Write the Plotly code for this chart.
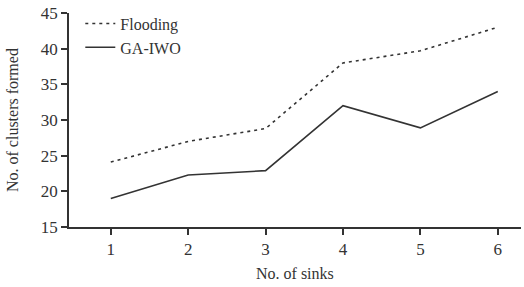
import plotly.graph_objects as go

sinks = [1, 2, 3, 4, 5, 6]
flooding = [24.1, 27.0, 28.8, 38.0, 39.7, 43.0]
ga_iwo = [19.0, 22.3, 22.9, 32.0, 28.9, 34.0]

font = dict(family="Liberation Serif, Times New Roman, serif", color="#333333")

fig = go.Figure()
fig.add_trace(go.Scatter(x=sinks, y=flooding, mode="lines", name="Flooding",
                         line=dict(color="#333333", width=1.6, dash="3px,4px")))
fig.add_trace(go.Scatter(x=sinks, y=ga_iwo, mode="lines", name="GA-IWO",
                         line=dict(color="#333333", width=1.6)))

fig.update_layout(
    width=524, height=287,
    margin=dict(l=69, r=3, t=13, b=60, autoexpand=False),
    paper_bgcolor="white", plot_bgcolor="white",
    font=dict(size=17, **font),
    showlegend=True,
    legend=dict(x=0.025, y=1.03, xanchor="left", yanchor="top",
                bgcolor="rgba(0,0,0,0)", font=dict(size=16, **font),
                itemwidth=30, tracegroupgap=0),
    xaxis=dict(range=[0.46, 6.3], tickvals=sinks, ticks="outside", ticklen=6,
               tickwidth=1.5, tickcolor="#333333", showline=True, linecolor="#333333",
               linewidth=1.5, showgrid=False, zeroline=False, automargin=False,
               tickfont=dict(size=17, **font)),
    yaxis=dict(range=[15, 45], tickvals=[15, 20, 25, 30, 35, 40, 45], ticks="outside",
               ticklen=6, tickwidth=1.5, tickcolor="#333333", showline=True,
               linecolor="#333333", linewidth=1.5, showgrid=False, zeroline=False,
               automargin=False, tickfont=dict(size=17, **font)),
    annotations=[
        dict(text="No. of sinks", xref="paper", yref="paper", x=0.5, y=-0.2196,
             xanchor="center", yanchor="middle", showarrow=False,
             font=dict(size=16, **font)),
        dict(text="No. of clusters formed", xref="paper", yref="paper", x=-0.126, y=0.5,
             xanchor="center", yanchor="middle", textangle=-90, showarrow=False,
             font=dict(size=16, **font)),
    ],
)

fig.write_html("out.html", config={"displayModeBar": False},
               post_script="document.body.style.margin='0';document.body.style.overflow='hidden';")
